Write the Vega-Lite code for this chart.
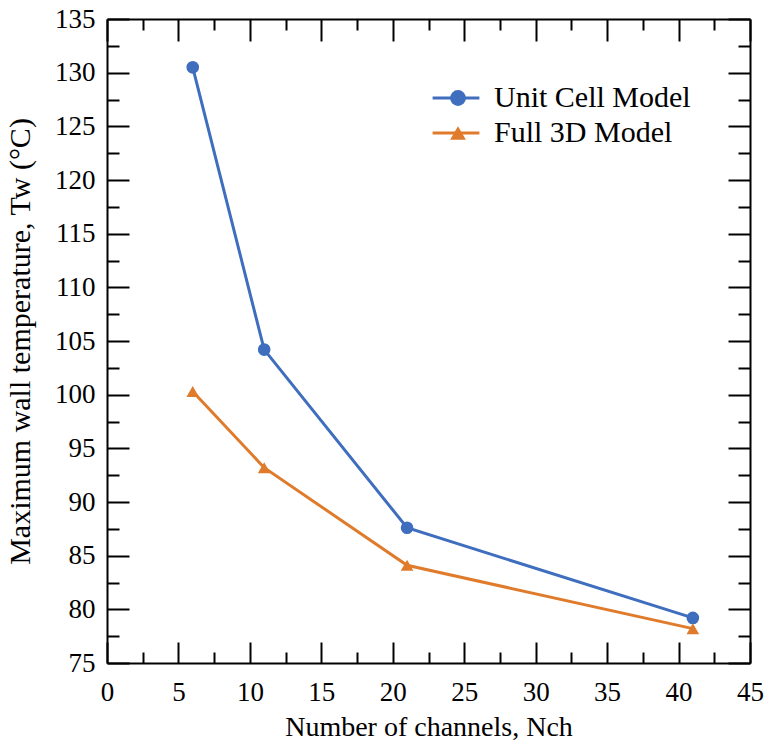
{
  "$schema": "https://vega.github.io/schema/vega-lite/v6.json",
  "width": 643,
  "height": 644,
  "autosize": {"type": "none"},
  "padding": {"left": 107, "top": 19, "right": 17, "bottom": 82},
  "background": "white",
  "config": {
    "view": {"stroke": null},
    "font": "Liberation Serif, Times New Roman, serif",
    "legend": {
      "title": null,
      "orient": "none",
      "padding": 0,
      "labelFont": "Liberation Serif, Times New Roman, serif", "labelFontSize": 30, "labelColor": "black",
      "labelLimit": 400,
      "rowPadding": 5
    }
  },
  "data": {
    "values": [
      {"model": "Unit Cell Model", "channels": 6, "temp": 130.5},
      {"model": "Unit Cell Model", "channels": 11, "temp": 104.2},
      {"model": "Unit Cell Model", "channels": 21, "temp": 87.6},
      {"model": "Unit Cell Model", "channels": 41, "temp": 79.2},
      {"model": "Full 3D Model", "channels": 6, "temp": 100.3},
      {"model": "Full 3D Model", "channels": 11, "temp": 93.2},
      {"model": "Full 3D Model", "channels": 21, "temp": 84.1},
      {"model": "Full 3D Model", "channels": 41, "temp": 78.2}
    ]
  },
  "resolve": {"axis": {"x": "independent", "y": "independent"}},
  "layer": [
    {
      "mark": {"type": "line", "strokeWidth": 3},
      "encoding": {
        "x": {
          "field": "channels", "type": "quantitative",
          "scale": {"domain": [0, 45], "nice": false, "zero": false},
          "axis": {
            "orient": "bottom",
            "title": "Number of channels, Nch",
            "titleFont": "Liberation Serif, Times New Roman, serif", "titleFontSize": 28, "titleFontWeight": "normal", "titleColor": "black",
            "titlePadding": -2,
            "values": [0,2.5,5,7.5,10,12.5,15,17.5,20,22.5,25,27.5,30,32.5,35,37.5,40,42.5,45],
            "labelExpr": "datum.value % 5 === 0 ? datum.label : ''",
            "labelOverlap": false, "labelFlush": false,
            "labelFont": "Liberation Serif, Times New Roman, serif", "labelFontSize": 27, "labelColor": "black",
            "labelPadding": 37,
            "tickSize": {"condition": {"test": "datum.value % 5 === 0", "value": -21}, "value": -11},
            "tickColor": "black", "tickWidth": 2,
            "domainColor": "black", "domainWidth": 2,
            "grid": false
          }
        },
        "y": {
          "field": "temp", "type": "quantitative",
          "scale": {"domain": [75, 135], "nice": false, "zero": false},
          "axis": {
            "orient": "left",
            "title": "Maximum wall temperature, Tw (°C)",
            "titleFont": "Liberation Serif, Times New Roman, serif", "titleFontSize": 30, "titleFontWeight": "normal", "titleColor": "black",
            "titlePadding": 19,
            "values": [75,77.5,80,82.5,85,87.5,90,92.5,95,97.5,100,102.5,105,107.5,110,112.5,115,117.5,120,122.5,125,127.5,130,132.5,135],
            "labelExpr": "datum.value % 5 === 0 ? datum.label : ''",
            "labelOverlap": false, "labelFlush": false,
            "labelFont": "Liberation Serif, Times New Roman, serif", "labelFontSize": 27, "labelColor": "black",
            "labelPadding": 34,
            "tickSize": {"condition": {"test": "datum.value % 5 === 0", "value": -22}, "value": -12},
            "tickColor": "black", "tickWidth": 2,
            "domainColor": "black", "domainWidth": 2,
            "grid": false
          }
        },
        "stroke": {
          "field": "model", "type": "nominal",
          "sort": ["Unit Cell Model", "Full 3D Model"],
          "scale": {"range": ["#3F6EBE", "#DF7B2B"]},
          "legend": {
            "legendX": 334,
            "legendY": 64,
            "symbolType": "M-2.6,0H2.6",
            "symbolSize": 324,
            "symbolStrokeWidth": 3,
            "labelOffset": 23
          }
        }
      }
    },
    {
      "mark": {"type": "point", "filled": true, "opacity": 1, "strokeWidth": 0, "size": 160},
      "encoding": {
        "x": {
          "field": "channels", "type": "quantitative",
          "axis": {
            "orient": "top", "title": null, "labels": false,
            "values": [0,2.5,5,7.5,10,12.5,15,17.5,20,22.5,25,27.5,30,32.5,35,37.5,40,42.5,45],
            "tickSize": {"condition": {"test": "datum.value % 5 === 0", "value": -22}, "value": -11},
            "tickColor": "black", "tickWidth": 2,
            "domainColor": "black", "domainWidth": 2,
            "grid": false
          }
        },
        "y": {
          "field": "temp", "type": "quantitative",
          "axis": {
            "orient": "right", "title": null, "labels": false,
            "values": [75,77.5,80,82.5,85,87.5,90,92.5,95,97.5,100,102.5,105,107.5,110,112.5,115,117.5,120,122.5,125,127.5,130,132.5,135],
            "tickSize": {"condition": {"test": "datum.value % 5 === 0", "value": -22}, "value": -12},
            "tickColor": "black", "tickWidth": 2,
            "domainColor": "black", "domainWidth": 2,
            "grid": false
          }
        },
        "fill": {
          "field": "model", "type": "nominal",
          "scale": {"domain": ["Unit Cell Model", "Full 3D Model"], "range": ["#3F6EBE", "#DF7B2B"]},
          "legend": {
            "legendX": 336,
            "legendY": 64,
            "symbolSize": 250,
            "symbolStrokeWidth": 0,
            "labelOpacity": 0,
            "labelExpr": "' '"
          }
        },
        "shape": {
          "field": "model", "type": "nominal",
          "scale": {"domain": ["Unit Cell Model", "Full 3D Model"], "range": ["circle", "triangle-up"]},
          "legend": {
            "legendX": 336,
            "legendY": 64,
            "symbolSize": 250,
            "symbolStrokeWidth": 0,
            "labelOpacity": 0,
            "labelExpr": "' '"
          }
        }
      }
    }
  ]
}
